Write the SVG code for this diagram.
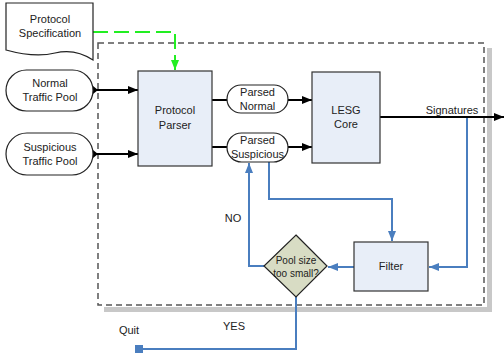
<svg xmlns="http://www.w3.org/2000/svg" width="504" height="354" viewBox="0 0 504 354">
<style>
text{font-family:"Liberation Sans",Arial,sans-serif;font-size:11px;fill:#222;text-anchor:middle}
.box{fill:#e8eef8;stroke:#333;stroke-width:1.2}
.term{fill:#fff;stroke:#222;stroke-width:1.2}
.blk{stroke:#000;stroke-width:2;fill:none}
.blue{stroke:#4a7ebf;stroke-width:2;fill:none}
</style>
<defs>
<marker id="ab" markerWidth="10" markerHeight="8" refX="10" refY="4" orient="auto" markerUnits="userSpaceOnUse"><path d="M0,0L10,4L0,8z" fill="#000"/></marker>
<marker id="abb" markerWidth="10" markerHeight="8" refX="10" refY="4" orient="auto" markerUnits="userSpaceOnUse"><path d="M0,0L10,4L0,8z" fill="#4a7ebf"/></marker>
<marker id="ag" markerWidth="10" markerHeight="8" refX="10" refY="4" orient="auto" markerUnits="userSpaceOnUse"><path d="M0,0L10,4L0,8z" fill="#22ee22"/></marker>
<marker id="sq" markerWidth="8" markerHeight="8" refX="4" refY="4" orient="auto" markerUnits="userSpaceOnUse"><rect width="8" height="8" fill="#4a7ebf"/></marker>
<marker id="st" markerWidth="6" markerHeight="8" refX="0" refY="4" orient="auto" markerUnits="userSpaceOnUse"><path d="M0,0L5,4L0,8z" fill="#000"/></marker>
</defs>
<g id="container">
<rect x="487" y="48" width="5" height="264" fill="#c8c8c8"/>
<rect x="104" y="307" width="388" height="5" fill="#c8c8c8"/>
<rect x="98" y="43" width="386" height="262" fill="none" stroke="#555" stroke-width="1.5" stroke-dasharray="6,4"/>
</g>
<g id="connectors">
<path d="M93,32H175V70" stroke="#22ee22" stroke-width="2" fill="none" stroke-dasharray="15,6" marker-end="url(#ag)"/>
<path class="blk" d="M93,90H138" marker-start="url(#st)" marker-end="url(#ab)"/>
<path class="blk" d="M93,154H138" marker-start="url(#st)" marker-end="url(#ab)"/>
<path class="blk" d="M212,100H227"/>
<path class="blk" d="M288,100H312" marker-end="url(#ab)"/>
<path class="blk" d="M212,147H227"/>
<path class="blk" d="M288,147H312" marker-end="url(#ab)"/>
<path class="blk" d="M380,117H504" marker-end="url(#ab)"/>
<path class="blue" d="M269,162V199H392V241" marker-end="url(#abb)"/>
<path class="blue" d="M467,118V267H429" marker-end="url(#abb)"/>
<path class="blue" d="M354,267H328" marker-end="url(#abb)"/>
<path class="blue" d="M264,266H249V163" marker-end="url(#abb)"/>
<path class="blue" d="M296,297V349H139" marker-end="url(#sq)"/>
<text x="452" y="114">Signatures</text>
<text x="233" y="222">NO</text>
<text x="234" y="330">YES</text>
<text x="129" y="334">Quit</text>
</g>
<g id="spec">
<path d="M6,3H93V60Q75,48 55,53T6,50Z" fill="#fff" stroke="#222" stroke-width="1.2"/>
<text x="50" y="23">Protocol</text>
<text x="50" y="37">Specification</text>
</g>
<g id="normal">
<rect x="6" y="70" width="87" height="41" rx="20.5" class="term"/>
<text x="50" y="87">Normal</text>
<text x="50" y="101">Traffic Pool</text>
</g>
<g id="suspicious">
<rect x="6" y="133" width="87" height="42" rx="21" class="term"/>
<text x="50" y="151">Suspicious</text>
<text x="50" y="165">Traffic Pool</text>
</g>
<g id="parser">
<rect x="138" y="71" width="74" height="95" class="box"/>
<text x="175" y="114">Protocol</text>
<text x="175" y="129">Parser</text>
</g>
<g id="parsed-normal">
<rect x="227" y="85" width="61" height="28" rx="14" class="term"/>
<text x="257.5" y="96">Parsed</text>
<text x="257.5" y="110">Normal</text>
</g>
<g id="parsed-suspicious">
<rect x="227" y="133" width="61" height="29" rx="14.5" class="term"/>
<text x="257.5" y="144">Parsed</text>
<text x="257.5" y="158">Suspicious</text>
</g>
<g id="lesg">
<rect x="312" y="72" width="68" height="91" class="box"/>
<text x="346" y="114">LESG</text>
<text x="346" y="128">Core</text>
</g>
<g id="filter">
<rect x="354" y="242" width="74" height="49" class="box"/>
<text x="391" y="270">Filter</text>
</g>
<g id="decision">
<path d="M296,235L327,266L296,297L264,266Z" fill="#d8dcc4" stroke="#222" stroke-width="1.2"/>
<text x="296" y="264" style="font-size:10px">Pool size</text>
<text x="296" y="277" style="font-size:10px">too small?</text>
</g>
</svg>
